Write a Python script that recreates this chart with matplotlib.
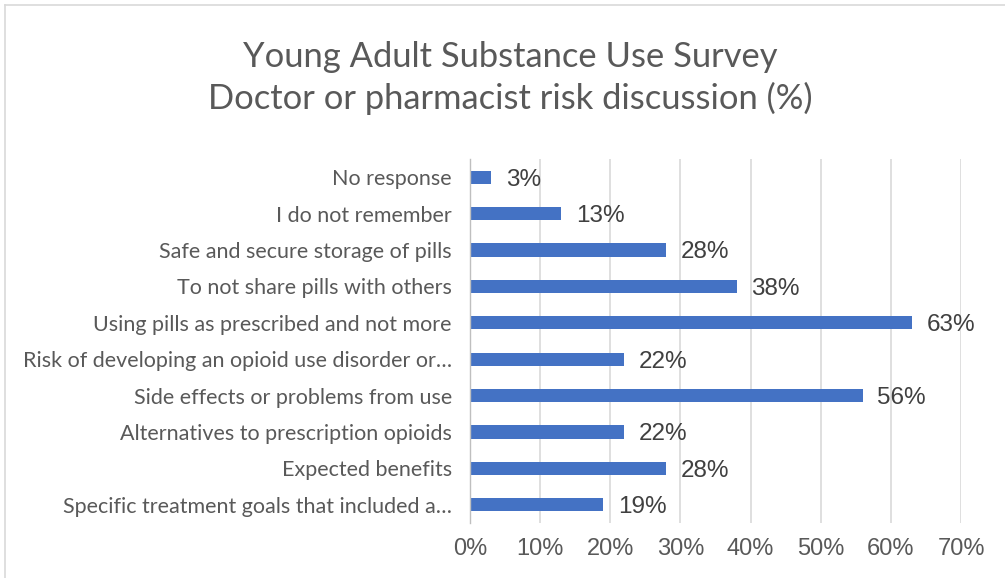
import matplotlib.pyplot as plt
from matplotlib.ticker import PercentFormatter
from matplotlib.lines import Line2D

# categories listed top to bottom as in the chart
categories = [
    "No response",
    "I do not remember",
    "Safe and secure storage of pills",
    "To not share pills with others",
    "Using pills as prescribed and not more",
    "Risk of developing an opioid use disorder or\u2026",
    "Side effects or problems from use",
    "Alternatives to prescription opioids",
    "Expected benefits",
    "Specific treatment goals that included a\u2026",
]
values = [3, 13, 28, 38, 63, 22, 56, 22, 28, 19]
ticks = [0, 10, 20, 30, 40, 50, 60, 70]

bar_col = "#4472C4"
txt_col = "#595959"

fig = plt.figure(figsize=(10.05, 5.78), dpi=100)
ax = fig.add_axes([470/1005, 1 - 523/578, (961 - 470)/1005, (523 - 159)/578])

ypos = list(range(len(categories)))
ax.barh(ypos, values, height=0.36, color=bar_col, zorder=3)
ax.set_ylim(len(categories) - 0.5, -0.5)
ax.set_xlim(0, 70)
ax.set_xticks(ticks)
ax.xaxis.set_major_formatter(PercentFormatter(decimals=0))
ax.set_yticks(ypos)
ax.set_yticklabels(categories, family="Lato", fontsize=15.5, color=txt_col)
ax.tick_params(axis="y", length=0, pad=13)
ax.tick_params(axis="x", length=0, pad=11, labelsize=17, labelcolor=txt_col)
for lab in ax.get_xticklabels():
    lab.set_family("Liberation Sans")

ax.grid(axis="x", color="#D9D9D9", linewidth=1.2, zorder=0)
for s in ["top", "right", "bottom"]:
    ax.spines[s].set_visible(False)
ax.spines["left"].set_color("#BFBFBF")
ax.spines["left"].set_linewidth(1.0)
ax.spines["left"].set_zorder(4)

for y, v in zip(ypos, values):
    ax.annotate(f"{v}%", (v, y), xytext=(10.5, 0), textcoords="offset points",
                va="center_baseline", ha="left", fontsize=17.5, color="#404040",
                family="Liberation Sans")

fig.text(0.508, 1 - 78/578, "Young Adult Substance Use Survey\nDoctor or pharmacist risk discussion (%)",
         ha="center", va="center", fontsize=24.8, color=txt_col, family="Lato",
         linespacing=1.35)

# chart frame (only top and left edges visible in the crop)
fig.add_artist(Line2D([5/1005, 1], [1 - 5/578, 1 - 5/578], color="#D9D9D9", lw=1.2))
fig.add_artist(Line2D([5/1005, 5/1005], [0, 1 - 5/578], color="#D9D9D9", lw=1.2))

fig.savefig("out.png", dpi=100)
